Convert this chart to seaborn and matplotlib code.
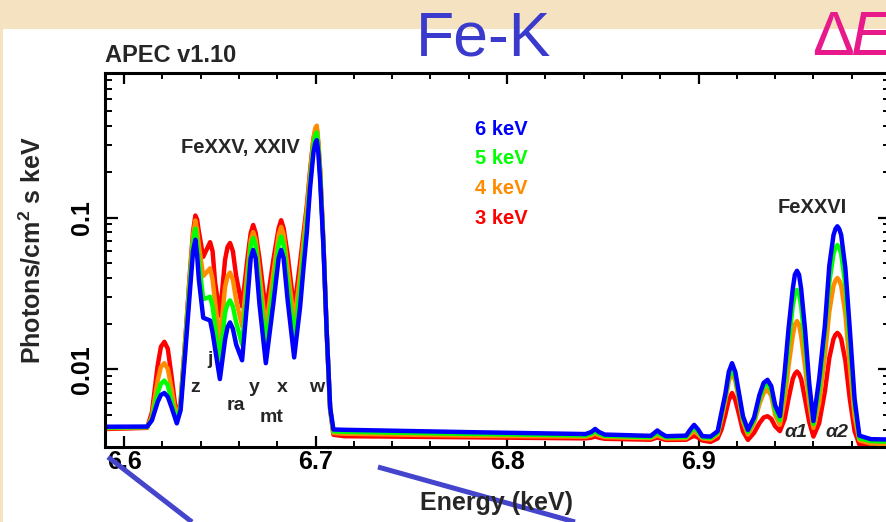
import numpy as np
import pandas as pd
import matplotlib
matplotlib.use('Agg')
import matplotlib.pyplot as plt
import seaborn as sns
from matplotlib.lines import Line2D
from matplotlib.patches import Rectangle
from matplotlib.ticker import FixedLocator, NullFormatter, FixedFormatter

# APEC v1.10 model spectra around Fe-K
energy = [6.590, 6.612, 6.6145, 6.6175, 6.6192, 6.6210, 6.6228, 6.6248, 6.6275, 6.6295,
          6.6320, 6.6345, 6.6360, 6.6372, 6.6381, 6.6390, 6.6413, 6.6449, 6.6462, 6.6475,
          6.6500, 6.6527, 6.6540, 6.6553, 6.6568, 6.6585, 6.6616, 6.6645, 6.6661, 6.6674,
          6.6687, 6.6707, 6.6740, 6.6780, 6.6807, 6.6820, 6.6833, 6.6854, 6.6888, 6.6919,
          6.6936, 6.6954, 6.6971, 6.6989, 6.6998, 6.7006, 6.7014, 6.7024, 6.7041, 6.7058,
          6.7076, 6.7093, 6.7150, 6.7800, 6.8410, 6.8440, 6.8460, 6.8480, 6.8510, 6.8750,
          6.8770, 6.8785, 6.8800, 6.8830, 6.8935, 6.8958, 6.8977, 6.8997, 6.9020, 6.9063,
          6.9100, 6.9120, 6.9140, 6.9158, 6.9175, 6.9192, 6.9212, 6.9232, 6.9258, 6.9290,
          6.9318, 6.9340, 6.9360, 6.9380, 6.9400, 6.9425, 6.9450, 6.9470, 6.9492, 6.9503,
          6.9514, 6.9525, 6.9536, 6.9556, 6.9578, 6.9600, 6.9630, 6.9660, 6.9683, 6.9705,
          6.9715, 6.9725, 6.9735, 6.9745, 6.9767, 6.9790, 6.9815, 6.9840, 6.9900, 7.0000]

flux_3kev = [0.00406, 0.00413, 0.00522, 0.0106, 0.0141, 0.0152, 0.0137, 0.00895, 0.00472, 0.0062,
             0.0162, 0.0463, 0.081, 0.103, 0.097, 0.081, 0.0551, 0.0688, 0.060, 0.0375,
             0.0226, 0.0527, 0.064, 0.0680, 0.060, 0.0412, 0.0260, 0.0551, 0.079, 0.0893,
             0.079, 0.0533, 0.0240, 0.0533, 0.085, 0.0960, 0.085, 0.0568, 0.0248, 0.0507,
             0.0770, 0.119, 0.203, 0.332, 0.371, 0.386, 0.308, 0.198, 0.0680, 0.0176,
             0.00542, 0.00372, 0.00364, 0.00358, 0.00352, 0.00356, 0.00362, 0.00356, 0.00350, 0.00345,
             0.00352, 0.00357, 0.00352, 0.00344, 0.00345, 0.00357, 0.00366, 0.00357, 0.00341, 0.00334,
             0.00352, 0.00403, 0.00503, 0.00630, 0.00700, 0.00630, 0.00503, 0.00393, 0.00344, 0.00383,
             0.00443, 0.00483, 0.00493, 0.00473, 0.00423, 0.00393, 0.00473, 0.00641, 0.00866, 0.00935,
             0.00970, 0.00935, 0.00866, 0.00641, 0.00452, 0.00362, 0.00443, 0.00717, 0.0119, 0.0159,
             0.0169, 0.0174, 0.0169, 0.0159, 0.0114, 0.00641, 0.00393, 0.00321, 0.00311, 0.00308]

flux_4kev = [0.00411, 0.00416, 0.00492, 0.00845, 0.0104, 0.0110, 0.0101, 0.00740, 0.00462, 0.0060,
             0.0158, 0.0437, 0.0765, 0.0956, 0.083, 0.0656, 0.0412, 0.0463, 0.039, 0.0277,
             0.0153, 0.0348, 0.041, 0.0434, 0.039, 0.0285, 0.0193, 0.0454, 0.071, 0.0802,
             0.071, 0.0427, 0.0184, 0.0436, 0.077, 0.0868, 0.077, 0.0463, 0.0204, 0.0420,
             0.0684, 0.111, 0.195, 0.332, 0.387, 0.402, 0.316, 0.206, 0.0680, 0.0176,
             0.00552, 0.00382, 0.00378, 0.00367, 0.00361, 0.00368, 0.00379, 0.00368, 0.00359, 0.00353,
             0.00362, 0.00370, 0.00362, 0.00352, 0.00353, 0.00375, 0.00393, 0.00375, 0.00352, 0.00347,
             0.00373, 0.00473, 0.00622, 0.00837, 0.00964, 0.00837, 0.00622, 0.00453, 0.00373, 0.00443,
             0.00592, 0.00700, 0.00738, 0.00670, 0.00503, 0.00433, 0.00641, 0.0105, 0.0166, 0.0197,
             0.0208, 0.0197, 0.0166, 0.0105, 0.00601, 0.00413, 0.00601, 0.0124, 0.0240, 0.0356,
             0.0385, 0.0400, 0.0385, 0.0356, 0.0231, 0.0105, 0.00493, 0.00342, 0.00326, 0.00323]

flux_5kev = [0.00415, 0.00418, 0.00472, 0.00700, 0.00806, 0.00845, 0.00787, 0.00620, 0.00452, 0.0058,
             0.0148, 0.0401, 0.0688, 0.0845, 0.069, 0.0516, 0.0290, 0.0301, 0.026, 0.0194,
             0.0112, 0.0236, 0.027, 0.0285, 0.026, 0.0204, 0.0146, 0.0375, 0.065, 0.0733,
             0.065, 0.0348, 0.0146, 0.0357, 0.066, 0.0750, 0.066, 0.0375, 0.0158, 0.0339,
             0.0568, 0.0935, 0.172, 0.300, 0.347, 0.363, 0.292, 0.190, 0.0654, 0.0176,
             0.00552, 0.00392, 0.00389, 0.00377, 0.00368, 0.00378, 0.00392, 0.00378, 0.00366, 0.00359,
             0.00373, 0.00383, 0.00373, 0.00358, 0.00360, 0.00391, 0.00414, 0.00391, 0.00358, 0.00355,
             0.00383, 0.00503, 0.00661, 0.00896, 0.0103, 0.00896, 0.00661, 0.00473, 0.00388, 0.00463,
             0.00641, 0.00768, 0.00806, 0.00729, 0.00543, 0.00463, 0.00816, 0.0148, 0.0260, 0.0314,
             0.0334, 0.0314, 0.0260, 0.0148, 0.00720, 0.00438, 0.00739, 0.0177, 0.0375, 0.0577,
             0.0632, 0.0659, 0.0632, 0.0577, 0.0357, 0.0148, 0.00582, 0.00352, 0.00338, 0.00335]

flux_6kev = [0.00420, 0.00421, 0.00462, 0.00611, 0.00680, 0.00700, 0.00661, 0.00562, 0.00442, 0.0054,
             0.0134, 0.0346, 0.0602, 0.0714, 0.057, 0.0392, 0.0219, 0.0210, 0.0175, 0.0137,
             0.00865, 0.0157, 0.0190, 0.0204, 0.0185, 0.0146, 0.0115, 0.0300, 0.054, 0.0612,
             0.054, 0.0267, 0.0110, 0.0276, 0.054, 0.0612, 0.054, 0.0285, 0.0120, 0.0258,
             0.0454, 0.0793, 0.156, 0.269, 0.308, 0.323, 0.269, 0.172, 0.0637, 0.0176,
             0.00562, 0.00403, 0.00401, 0.00387, 0.00376, 0.00388, 0.00406, 0.00388, 0.00373, 0.00366,
             0.00383, 0.00397, 0.00383, 0.00364, 0.00367, 0.00404, 0.00432, 0.00404, 0.00364, 0.00362,
             0.00393, 0.00523, 0.00690, 0.00964, 0.0110, 0.00964, 0.00690, 0.00493, 0.00400, 0.00483,
             0.00680, 0.00816, 0.00855, 0.00777, 0.00582, 0.00493, 0.00964, 0.0185, 0.0338, 0.0420,
             0.0446, 0.0420, 0.0338, 0.0185, 0.00816, 0.00458, 0.00866, 0.0195, 0.0482, 0.0767,
             0.0840, 0.0876, 0.0840, 0.0767, 0.0463, 0.0185, 0.00641, 0.00367, 0.00348, 0.00346]

temps = ['3 keV', '4 keV', '5 keV', '6 keV']
colors = {'3 keV': '#ff0000', '4 keV': '#ff8c00', '5 keV': '#00ff00', '6 keV': '#0000ff'}

# line labels: (text, energy, flux at baseline)
line_labels = [('z', 6.6370, 0.00711), ('j', 6.6448, 0.01086), ('ra', 6.6584, 0.00542),
               ('y', 6.6678, 0.00711), ('mt', 6.6769, 0.00454), ('x', 6.6827, 0.00711),
               ('w', 6.7004, 0.00711)]

fluxes = [flux_3kev, flux_4kev, flux_5kev, flux_6kev]
for f in fluxes:
    assert len(f) == len(energy), len(f)

df = pd.concat([pd.DataFrame({'energy': energy, 'flux': f, 'kT': t})
                for f, t in zip(fluxes, temps)], ignore_index=True)

sns.set_theme(style='ticks')
plt.rcParams['font.family'] = ['Liberation Sans', 'DejaVu Sans']
plt.rcParams['font.weight'] = 'bold'
plt.rcParams['mathtext.fontset'] = 'custom'
plt.rcParams['mathtext.rm'] = 'Liberation Sans:bold'
plt.rcParams['mathtext.bf'] = 'Liberation Sans:bold'
plt.rcParams['mathtext.it'] = 'Liberation Sans:italic:bold'

BEIGE = '#f4e2c0'
fig = plt.figure(figsize=(8.87, 5.22), dpi=100, facecolor=BEIGE)
fig.patches.append(Rectangle((3 / 887, 0), 1, 1 - 29 / 522, transform=fig.transFigure,
                             facecolor='white', edgecolor='none', zorder=-5))

ax = fig.add_axes([105 / 887, 1 - 447 / 522, 785 / 887, 374 / 522])
ax.set_facecolor('none')

sns.lineplot(data=df, x='energy', y='flux', hue='kT', hue_order=temps, palette=colors,
             estimator=None, sort=False, legend=False, linewidth=3.2, ax=ax,
             solid_joinstyle='round', solid_capstyle='round')

ax.set_yscale('log')
ax.set_xlim(6.59, 7.0)
ax.set_ylim(0.00309, 0.893)
ax.set_xlabel('')
ax.set_ylabel('')

ax.xaxis.set_major_locator(FixedLocator([6.6, 6.7, 6.8, 6.9]))
ax.xaxis.set_major_formatter(FixedFormatter(['6.6', '6.7', '6.8', '6.9']))
ax.xaxis.set_minor_locator(FixedLocator(np.round(np.arange(6.6, 7.001, 0.02), 2)))
ax.yaxis.set_major_locator(FixedLocator([0.01, 0.1]))
ax.yaxis.set_major_formatter(FixedFormatter(['0.01', '0.1']))
ax.yaxis.set_minor_locator(FixedLocator([k * 0.001 for k in range(4, 10)] +
                                        [k * 0.01 for k in range(2, 10)] +
                                        [k * 0.1 for k in range(2, 9)]))
ax.yaxis.set_minor_formatter(NullFormatter())

for s in ax.spines.values():
    s.set_linewidth(2.2)
    s.set_color('black')
ax.tick_params(axis='both', which='both', direction='in', top=True, right=True,
               colors='black', labelsize=18)
ax.tick_params(axis='x', which='major', length=8, width=1.6, pad=2)
ax.tick_params(axis='x', which='minor', length=4, width=1.4)
ax.tick_params(axis='y', which='major', length=9, width=1.6, pad=8)
ax.tick_params(axis='y', which='minor', length=5, width=1.4)
plt.setp(ax.get_yticklabels(), rotation=90, va='center', ha='right')

# legend as coloured text
for t, yv in zip(['6 keV', '5 keV', '4 keV', '3 keV'], [0.349, 0.2233, 0.1428, 0.0913]):
    ax.text(6.7832, yv, t, color=colors[t], fontsize=14.5, fontweight='bold',
            ha='left', va='baseline')

ax.text(6.6605, 0.2655, 'FeXXV, XXIV', fontsize=14.5, fontweight='bold', ha='center', va='baseline')
ax.text(6.9595, 0.1071, 'FeXXVI', fontsize=14.5, fontweight='bold', ha='center', va='baseline')
for txt, e, f in line_labels:
    ax.text(e, f, txt, fontsize=14, fontweight='bold', ha='center', va='baseline')
for txt, e in [('α1', 6.9509), ('α2', 6.9725)]:
    ax.text(e, 0.0036, txt, fontsize=14, fontweight='bold', style='italic',
            ha='center', va='baseline')

# titles and axis labels
fig.text(105 / 887, 1 - 62 / 522, 'APEC v1.10', fontsize=17, fontweight='bold',
         ha='left', va='baseline')
fig.text(484 / 887, 1 - 55 / 522, 'Fe-K', fontsize=45, fontweight='normal',
         color='#3a3acc', ha='center', va='baseline')
fig.text(812 / 887, 1 - 55 / 522, 'Δ', fontsize=45, fontweight='normal',
         color='#e8198b', ha='left', va='baseline')
fig.text(850 / 887, 1 - 55 / 522, 'E', fontsize=45, fontweight='normal', style='italic',
         color='#e8198b', ha='left', va='baseline')
fig.text(32 / 887, 1 - 250 / 522, 'Photons/cm$^\\mathbf{2}$ s keV', fontsize=18,
         fontweight='bold', rotation=90, ha='center', va='center')
fig.text(497 / 887, 1 - 510 / 522, 'Energy (keV)', fontsize=18, fontweight='bold',
         ha='center', va='baseline')

# decorative slide arrows
for (x0, y0), (x1, y1) in [((108, 457), (192, 522)), ((378, 467), (575, 522))]:
    fig.add_artist(Line2D([x0 / 887, x1 / 887], [1 - y0 / 522, 1 - y1 / 522],
                          transform=fig.transFigure, color='#4444cc', linewidth=3.6,
                          solid_capstyle='butt'))

fig.savefig('out.png', dpi=100, facecolor=fig.get_facecolor())
